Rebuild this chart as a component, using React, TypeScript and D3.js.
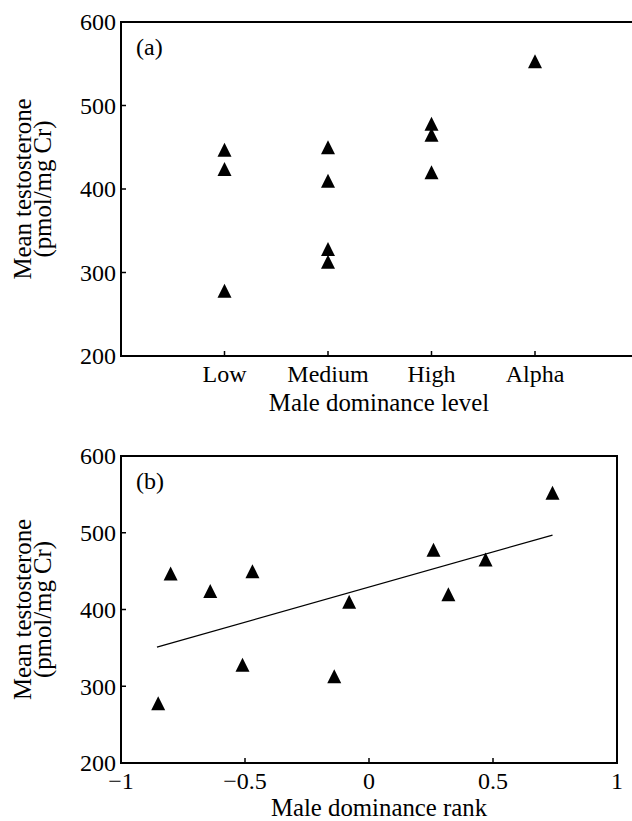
import React, { useEffect, useRef } from "react";
import * as d3 from "d3";

// Panel (a): testosterone by dominance level
const levelCategories = ["Low", "Medium", "High", "Alpha"];
const levelPointCategory = [
  "Low", "Low", "Low",
  "Medium", "Medium", "Medium", "Medium",
  "High", "High", "High",
  "Alpha",
];
const levelPointTestosterone = [447, 424, 278, 450, 410, 328, 313, 478, 465, 420, 553];

// Panel (b): testosterone by dominance rank
const rankValues = [-0.85, -0.8, -0.64, -0.51, -0.47, -0.14, -0.08, 0.26, 0.32, 0.47, 0.74];
const rankTestosterone = [278, 447, 424, 328, 450, 313, 410, 478, 420, 465, 552];
const fitLineRank = [-0.855, 0.74];
const fitLineTestosterone = [351, 497];

const yTicks = [200, 300, 400, 500, 600];
const rankTicks = [-1, -0.5, 0, 0.5, 1];

const FONT = "'Liberation Serif', 'Times New Roman', serif";
const FS = 24; // tick labels
const FS_TITLE = 24.8; // axis titles

const W = 632;
const H = 821;

// small filled triangle marker, 14 x 14 box centred on the point
const triangle = "M0,-7L7,7L-7,7Z";

const rankFormat = (d: number) => (d === 0 ? "0" : d3.format("")(d).replace("-", "\u2212"));

const App: React.FC = () => {
  const svgRef = useRef<SVGSVGElement>(null);

  useEffect(() => {
    if (!svgRef.current) return;
    const svg = d3.select(svgRef.current);
    svg.selectAll("*").remove();

    const drawYAxis = (
      y: d3.ScaleLinear<number, number>,
      left: number,
      top: number,
      bottom: number,
      label: string
    ) => {
      const g = svg.append("g");
      yTicks.forEach((t) => {
        g.append("line")
          .attr("x1", left)
          .attr("x2", left + 5)
          .attr("y1", y(t))
          .attr("y2", y(t))
          .attr("stroke", "#000")
          .attr("stroke-width", 1.5);
        g.append("text")
          .attr("x", left - 5)
          .attr("y", y(t))
          .attr("dy", "0.35em")
          .attr("text-anchor", "end")
          .style("font-family", FONT)
          .style("font-size", `${FS}px`)
          .text(t);
      });
      // two-line rotated title
      const cy = (top + bottom) / 2;
      g.append("text")
        .attr("transform", `translate(31, ${cy}) rotate(-90)`)
        .attr("text-anchor", "middle")
        .style("font-family", FONT)
        .style("font-size", `${FS_TITLE}px`)
        .text("Mean testosterone");
      g.append("text")
        .attr("transform", `translate(51, ${cy}) rotate(-90)`)
        .attr("text-anchor", "middle")
        .style("font-family", FONT)
        .style("font-size", `${FS_TITLE}px`)
        .text("(pmol/mg Cr)");
      // panel letter
      g.append("text")
        .attr("x", left + 15)
        .attr("y", top + 33)
        .style("font-family", FONT)
        .style("font-size", `${FS}px`)
        .text(label);
    };

    const drawFrame = (x0: number, x1: number, y0: number, y1: number) => {
      svg
        .append("rect")
        .attr("x", x0)
        .attr("y", y0)
        .attr("width", x1 - x0)
        .attr("height", y1 - y0)
        .attr("fill", "none")
        .attr("stroke", "#000")
        .attr("stroke-width", 2);
    };

    // ---------- panel (a) ----------
    const xA = d3.scaleLinear().domain([0, 5]).range([121, 638.5]);
    const yA = d3.scaleLinear().domain([200, 600]).range([356, 22]);
    drawFrame(121, 638.5, 22, 356);
    drawYAxis(yA, 121, 22, 356, "(a)");

    levelCategories.forEach((c, i) => {
      const x = xA(i + 1);
      svg
        .append("line")
        .attr("x1", x)
        .attr("x2", x)
        .attr("y1", 356)
        .attr("y2", 351)
        .attr("stroke", "#000")
        .attr("stroke-width", 1.5);
      svg
        .append("text")
        .attr("x", x)
        .attr("y", 382)
        .attr("text-anchor", "middle")
        .style("font-family", FONT)
        .style("font-size", `${FS}px`)
        .text(c);
    });
    svg
      .append("text")
      .attr("x", 379)
      .attr("y", 411)
      .attr("text-anchor", "middle")
      .style("font-family", FONT)
      .style("font-size", `${FS_TITLE}px`)
      .text("Male dominance level");

    svg
      .append("g")
      .selectAll("path")
      .data(levelPointTestosterone)
      .join("path")
      .attr("d", triangle)
      .attr(
        "transform",
        (d, i) => `translate(${xA(levelCategories.indexOf(levelPointCategory[i]) + 1)}, ${yA(d)})`
      )
      .attr("fill", "#000");

    // ---------- panel (b) ----------
    const xB = d3.scaleLinear().domain([-1, 1]).range([121, 617]);
    const yB = d3.scaleLinear().domain([200, 600]).range([763, 456]);
    drawFrame(121, 617, 456, 763);
    drawYAxis(yB, 121, 456, 763, "(b)");

    rankTicks.forEach((t) => {
      svg
        .append("line")
        .attr("x1", xB(t))
        .attr("x2", xB(t))
        .attr("y1", 763)
        .attr("y2", 758)
        .attr("stroke", "#000")
        .attr("stroke-width", 1.5);
      svg
        .append("text")
        .attr("x", xB(t))
        .attr("y", 789)
        .attr("text-anchor", "middle")
        .style("font-family", FONT)
        .style("font-size", `${FS}px`)
        .text(rankFormat(t));
    });
    svg
      .append("text")
      .attr("x", 379)
      .attr("y", 816)
      .attr("text-anchor", "middle")
      .style("font-family", FONT)
      .style("font-size", `${FS_TITLE}px`)
      .text("Male dominance rank");

    const fitLine = d3
      .line<number>()
      .x((d) => xB(d))
      .y((_, i) => yB(fitLineTestosterone[i]));
    svg
      .append("path")
      .attr("d", fitLine(fitLineRank))
      .attr("fill", "none")
      .attr("stroke", "#000")
      .attr("stroke-width", 1.3);

    svg
      .append("g")
      .selectAll("path")
      .data(rankTestosterone)
      .join("path")
      .attr("d", triangle)
      .attr("transform", (d, i) => `translate(${xB(rankValues[i])}, ${yB(d)})`)
      .attr("fill", "#000");
  }, []);

  return (
    <svg
      ref={svgRef}
      width={W}
      height={H}
      style={{ position: "absolute", left: 0, top: 0, background: "#fff" }}
    />
  );
};

export default App;
